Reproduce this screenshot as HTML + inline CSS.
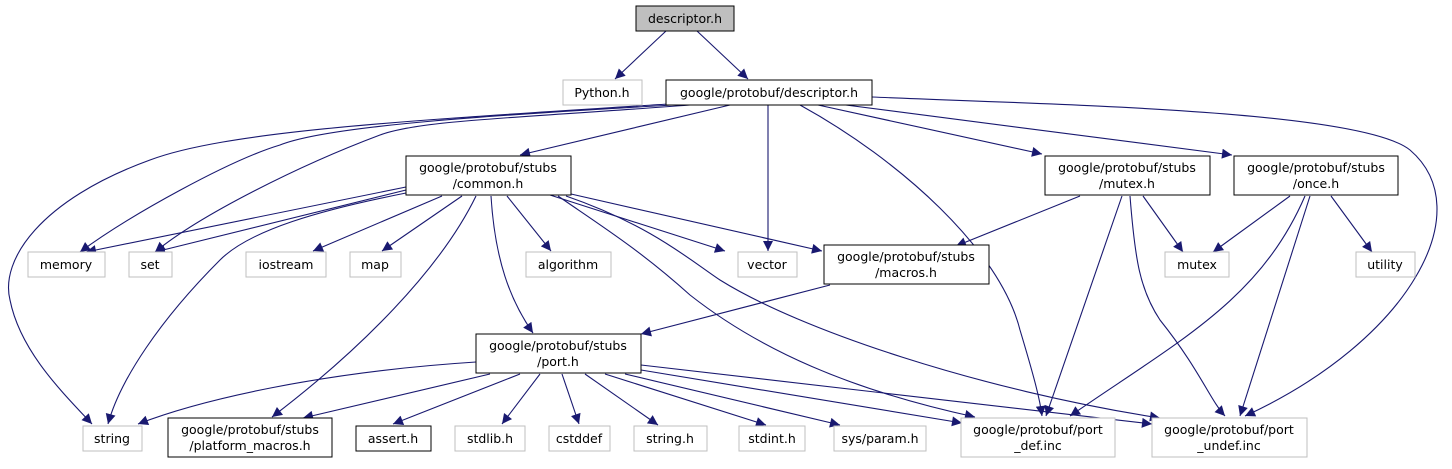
<!DOCTYPE html>
<html><head><meta charset="utf-8"><style>
html,body{margin:0;padding:0;background:#fff}
svg{display:block}
text{font-family:"DejaVu Sans","Liberation Sans",sans-serif;font-size:12.5px;fill:#000;text-anchor:middle}
.e{fill:none;stroke:#191970;stroke-width:1.1}
.b{fill:#fff;stroke:#000;stroke-width:1}
.g{fill:#fff;stroke:#bfbfbf;stroke-width:1}
</style></head><body>
<svg width="1452" height="469" viewBox="0 0 1452 469" xmlns="http://www.w3.org/2000/svg">
<defs><marker id="a" viewBox="0 0 10 10" refX="10" refY="5" markerWidth="12" markerHeight="10" markerUnits="userSpaceOnUse" orient="auto"><path d="M0,0L10,5L0,10z" fill="#191970"/></marker></defs>
<g marker-end="url(#a)">
<path class="e" d="M666,31L615,79"/>
<path class="e" d="M697,31L748,79"/>
<path class="e" d="M668,104C420,120 230,130 150,160C40,200 0,260 10,300C20,350 60,390 92,424"/>
<path class="e" d="M672,105C500,115 330,125 280,145C230,160 130,215 80,252"/>
<path class="e" d="M690,105C520,118 420,120 380,135C300,165 200,215 155,252"/>
<path class="e" d="M730,105L520,155"/>
<path class="e" d="M768,105L768,251"/>
<path class="e" d="M800,105C900,160 1000,250 1020,330C1035,380 1040,400 1042,416"/>
<path class="e" d="M818,105L1042,154"/>
<path class="e" d="M838,104L1232,155"/>
<path class="e" d="M872,97C1060,105 1360,110 1410,150C1480,210 1410,340 1245,416"/>
<path class="e" d="M406,187L86,252"/>
<path class="e" d="M406,190L155,252"/>
<path class="e" d="M406,193C320,210 250,230 220,260C160,320 120,380 108,424"/>
<path class="e" d="M442,196L313,251"/>
<path class="e" d="M462,196L382,251"/>
<path class="e" d="M476,196C440,270 360,350 272,417"/>
<path class="e" d="M491,196C495,260 510,300 533,333"/>
<path class="e" d="M507,196L551,251"/>
<path class="e" d="M550,195L725,251"/>
<path class="e" d="M571,194L822,251"/>
<path class="e" d="M558,196C600,225 640,250 690,295C760,350 850,390 975,417"/>
<path class="e" d="M566,196C650,225 690,260 720,280C800,330 980,390 1160,418"/>
<path class="e" d="M1080,196L956,246"/>
<path class="e" d="M1122,196L1046,416"/>
<path class="e" d="M1130,196C1135,260 1140,290 1160,320C1200,370 1210,400 1225,416"/>
<path class="e" d="M1143,196L1183,252"/>
<path class="e" d="M1290,196L1213,252"/>
<path class="e" d="M1305,196C1260,300 1180,340 1070,416"/>
<path class="e" d="M1310,196L1240,416"/>
<path class="e" d="M1331,196L1372,252"/>
<path class="e" d="M830,285L641,334"/>
<path class="e" d="M476,362C320,372 200,400 138,424"/>
<path class="e" d="M490,374L303,418"/>
<path class="e" d="M520,374L393,424"/>
<path class="e" d="M540,374L502,424"/>
<path class="e" d="M562,374L579,424"/>
<path class="e" d="M585,374L658,425"/>
<path class="e" d="M605,374L766,425"/>
<path class="e" d="M625,374L840,425"/>
<path class="e" d="M641,370L962,423"/>
<path class="e" d="M641,365L1152,424"/>
</g>
<rect x="636" y="6" width="98" height="25" fill="#bfbfbf" stroke="#000"/><text x="685" y="23">descriptor.h</text>
<rect class="g" x="563" y="80" width="79" height="25"/><text x="602" y="97">Python.h</text>
<rect class="b" x="666" y="80" width="206" height="25"/><text x="769" y="97">google/protobuf/descriptor.h</text>
<rect class="b" x="406" y="156" width="165" height="39"/><text x="488" y="172">google/protobuf/stubs</text><text x="488" y="188">/common.h</text>
<rect class="b" x="1045" y="156" width="165" height="39"/><text x="1127" y="172">google/protobuf/stubs</text><text x="1127" y="188">/mutex.h</text>
<rect class="b" x="1234" y="156" width="164" height="39"/><text x="1316" y="172">google/protobuf/stubs</text><text x="1316" y="188">/once.h</text>
<rect class="g" x="28" y="252" width="77" height="25"/><text x="66" y="269">memory</text>
<rect class="g" x="129" y="252" width="43" height="25"/><text x="150" y="269">set</text>
<rect class="g" x="246" y="252" width="80" height="25"/><text x="286" y="269">iostream</text>
<rect class="g" x="350" y="252" width="51" height="25"/><text x="375" y="269">map</text>
<rect class="g" x="526" y="252" width="85" height="25"/><text x="568" y="269">algorithm</text>
<rect class="g" x="738" y="252" width="59" height="25"/><text x="767" y="269">vector</text>
<rect class="b" x="824" y="245" width="165" height="39"/><text x="906" y="261">google/protobuf/stubs</text><text x="906" y="277">/macros.h</text>
<rect class="g" x="1165" y="252" width="64" height="25"/><text x="1197" y="269">mutex</text>
<rect class="g" x="1356" y="252" width="59" height="25"/><text x="1385" y="269">utility</text>
<rect class="b" x="476" y="334" width="165" height="39"/><text x="558" y="350">google/protobuf/stubs</text><text x="558" y="366">/port.h</text>
<rect class="g" x="83" y="426" width="59" height="25"/><text x="112" y="443">string</text>
<rect class="b" x="168" y="418" width="164" height="39"/><text x="250" y="434">google/protobuf/stubs</text><text x="250" y="450">/platform_macros.h</text>
<rect class="b" x="356" y="426" width="75" height="25"/><text x="393" y="443">assert.h</text>
<rect class="g" x="455" y="426" width="70" height="25"/><text x="490" y="443">stdlib.h</text>
<rect class="g" x="549" y="426" width="61" height="25"/><text x="579" y="443">cstddef</text>
<rect class="g" x="634" y="426" width="73" height="25"/><text x="670" y="443">string.h</text>
<rect class="g" x="739" y="426" width="66" height="25"/><text x="772" y="443">stdint.h</text>
<rect class="g" x="834" y="426" width="92" height="25"/><text x="880" y="443">sys/param.h</text>
<rect class="g" x="961" y="418" width="154" height="39"/><text x="1038" y="434">google/protobuf/port</text><text x="1038" y="450">_def.inc</text>
<rect class="g" x="1152" y="418" width="155" height="39"/><text x="1229" y="434">google/protobuf/port</text><text x="1229" y="450">_undef.inc</text>
</svg>
</body></html>
